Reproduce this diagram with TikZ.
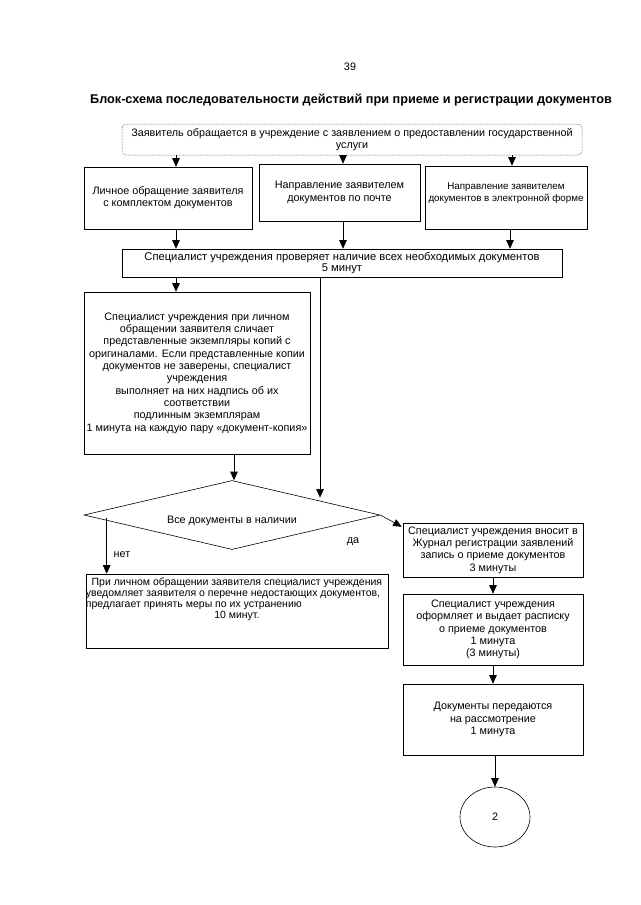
\documentclass[tikz,border=0pt]{standalone}
\usepackage{fontspec}
\setmainfont{Liberation Sans}
\usetikzlibrary{arrows.meta,shapes.geometric}
\begin{document}
\begin{tikzpicture}[x=1pt,y=-1pt,
  every node/.style={font=\fontsize{10.8}{12.3}\selectfont},
  box/.style={draw, line width=0.6pt, rectangle, inner sep=0pt, align=center},
  arr/.style={line width=0.6pt, -{Triangle[width=7.5pt,length=8.5pt]}},
  ln/.style={line width=0.6pt}]
\useasboundingbox (0,0) rectangle (640,905);
\fill[white] (0,0) rectangle (640,905);

\node (pg) at (350,67) {39};
\node[font=\bfseries\fontsize{12.7}{14}\selectfont] (title) at (351,100)
  {Блок-схема последовательности действий при приеме и регистрации документов};

\node[draw=gray, line width=0.5pt, dash pattern=on 2pt off 1pt, rounded corners=4pt,
  minimum width=460, minimum height=31, inner sep=0pt, align=center] (z) at (352,139.5)
  {Заявитель обращается в учреждение с заявлением о предоставлении государственной\\услуги};

\node[box, minimum width=168, minimum height=62] (b1) at (168,198)
  {Личное обращение заявителя\\с комплектом документов};
\node[box, minimum width=161, minimum height=57] (b2) at (339.5,192.5)
  {Направление заявителем\\документов по почте};
\node[box, minimum width=162, minimum height=63] (b3) at (506,197.5) {};
\node[align=center, inner sep=0pt, font=\fontsize{9.8}{12}\selectfont] (b3t) at (506,193)
  {Направление заявителем\\документов в электронной форме};

\node[box, minimum width=440, minimum height=28, font=\fontsize{11.2}{11.5}\selectfont] (cb) at (342,263)
  {Специалист учреждения проверяет наличие всех необходимых документов\\5 минут};

\node[box, minimum width=226, minimum height=162] (bb) at (197,373)
  {Специалист учреждения при личном\\обращении заявителя сличает\\представленные экземпляры копий с\\оригиналами. Если представленные копии\\документов не заверены, специалист\\учреждения\\выполняет на них надпись об их\\соответствии\\подлинным экземплярам\\1 минута на каждую пару «документ-копия»};

\node[draw, line width=0.6pt, diamond, inner sep=0pt, minimum width=296, minimum height=69] (dd) at (232,515) {};
\node (ddt) at ([yshift=-6]dd.center) {Все документы в наличии};

\node[box, minimum width=302, minimum height=74] (nb) at (237,611) {};
\node[anchor=north west, inner sep=0pt, align=left, font=\fontsize{10.5}{11}\selectfont] (nbt) at ([yshift=-4]nb.north west)
  {\makebox[302pt][c]{При личном обращении заявителя специалист учреждения}\\
   уведомляет заявителя о перечне недостающих документов,\\
   предлагает принять меры по их устранению\\
   \makebox[302pt][c]{10 минут.}};

\node[box, minimum width=180, minimum height=54] (jb) at (493,550)
  {Специалист учреждения вносит в\\Журнал регистрации заявлений\\запись о приеме документов\\3 минуты};
\node[box, minimum width=180, minimum height=71] (rb) at (493,629.5)
  {Специалист учреждения\\оформляет и выдает расписку\\о приеме документов\\1 минута\\(3 минуты)};
\node[box, minimum width=180, minimum height=71] (db) at (493,719.5)
  {Документы передаются\\на рассмотрение\\1 минута};
\node[draw, line width=0.6pt, ellipse, minimum width=70, minimum height=60, inner sep=0pt] (ce) at (495,817) {2};

\node (net) at (122,555) {нет};
\node (da) at (353,542) {да};

% connectors
\draw[arr] ([xshift=8]b1.north |- z.south) -- ([xshift=8]b1.north);
\draw[arr] ([xshift=3.5]b2.north |- z.south) -- ([xshift=3.5]b2.north);
\draw[arr] ([xshift=6]b3.north |- z.south) -- ([xshift=6]b3.north);
\draw[arr] ([xshift=8]b1.south) -- ([xshift=8]b1.south |- cb.north);
\draw[arr] ([xshift=3.5]b2.south) -- ([xshift=3.5]b2.south |- cb.north);
\draw[arr] ([xshift=4]b3.south) -- ([xshift=4]b3.south |- cb.north);
\draw[arr] ([xshift=-21]bb.north |- cb.south) -- ([xshift=-21]bb.north);
\draw[arr] ([xshift=-22]cb.south) -- ([xshift=-22]cb.south |- dd.north east);
\draw[arr] ([xshift=37]bb.south) -- ([xshift=37]bb.south |- dd.north);
\draw[arr] ([xshift=23,yshift=-3]dd.west) -- ([xshift=23]dd.west |- nb.north);
\draw[arr] (dd.east) -- ([xshift=-1,yshift=-4]jb.north west);
\draw[arr] (jb.south) -- (rb.north);
\draw[arr] (rb.south) -- (db.north);
\draw[arr] ([xshift=2]db.south) -- (ce.north);
\end{tikzpicture}
\end{document}
